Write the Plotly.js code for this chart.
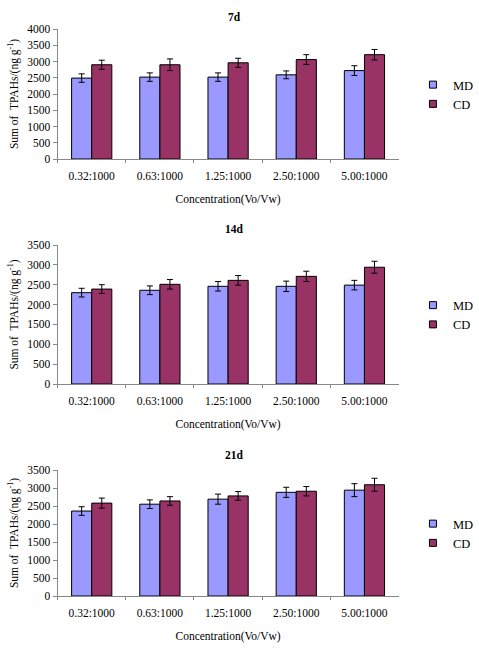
<!DOCTYPE html>
<html><head><meta charset="utf-8">
<script src="https://cdn.plot.ly/plotly-3.0.1.min.js"></script>
<style>html,body{margin:0;padding:0;background:#fff}</style>
</head><body><div id="chart" style="width:479px;height:652px"></div>
<script>
const categories = ["0.32:1000","0.63:1000","1.25:1000","2.50:1000","5.00:1000"];
const panelTitles = ["7d","14d","21d"];
const md7 = [2490, 2520, 2520, 2590, 2720];
const md7Err = [130, 130, 130, 120, 150];
const cd7 = [2900, 2900, 2960, 3060, 3210];
const cd7Err = [140, 180, 140, 150, 160];
const md14 = [2300, 2360, 2460, 2460, 2490];
const md14Err = [110, 110, 120, 130, 120];
const cd14 = [2390, 2510, 2610, 2710, 2940];
const cd14Err = [110, 120, 120, 130, 150];
const md21 = [2360, 2550, 2690, 2880, 2940];
const md21Err = [120, 120, 140, 140, 180];
const cd21 = [2580, 2640, 2780, 2910, 3090];
const cd21Err = [140, 120, 120, 130, 180];
const yMax = [4000, 3500, 3500];

const mdColor = "#9999FF", cdColor = "#993366";
const serif = '"Liberation Serif", "Times New Roman", serif';
const mdSets = [[md7, md7Err],[md14, md14Err],[md21, md21Err]];
const cdSets = [[cd7, cd7Err],[cd14, cd14Err],[cd21, cd21Err]];

const traces = [];
for (let i = 0; i < 3; i++) {
  const sfx = i === 0 ? "" : String(i + 1);
  const leg = i === 0 ? "legend" : "legend" + (i + 1);
  [["MD", mdColor, mdSets[i]], ["CD", cdColor, cdSets[i]]].forEach(([name, col, set]) => {
    traces.push({
      type: "bar", name: name, x: categories, y: set[0],
      xaxis: "x" + sfx, yaxis: "y" + sfx, showlegend: false,
      marker: {color: col, line: {color: "#000", width: 1}},
      error_y: {type: "data", array: set[1], visible: true, color: "#000", thickness: 1, width: 3}
    });
  });
  // legend-only entries with small square swatches
  [["MD", mdColor], ["CD", cdColor]].forEach(([name, col]) => {
    traces.push({
      type: "scatter", mode: "markers", name: name, x: [null], y: [null],
      xaxis: "x" + sfx, yaxis: "y" + sfx, legend: leg, showlegend: true,
      marker: {symbol: "square", size: 7, color: col, line: {color: "#000", width: 1}}
    });
  });
}

const plotTop = [29, 245, 470], plotBot = [159, 384, 596];
const titleY = [17, 229, 455];
const H = 652, W = 479;
const layout = {
  width: W, height: H, margin: {l: 0, r: 0, t: 0, b: 0},
  paper_bgcolor: "#fff", plot_bgcolor: "#fff",
  barmode: "group", bargap: 0.41, bargroupgap: 0,
  font: {family: serif, size: 11, color: "#000"},
  annotations: []
};
for (let i = 0; i < 3; i++) {
  const sfx = i === 0 ? "" : String(i + 1);
  const dom = [1 - plotBot[i] / H, 1 - plotTop[i] / H];
  layout["xaxis" + sfx] = {
    domain: [60 / W, 415 / W], anchor: "y" + sfx, type: "category",
    showline: true, linecolor: "#888", linewidth: 1,
    ticks: "outside", tickson: "boundaries", ticklen: 3, tickcolor: "#888",
    ticklabelstandoff: 6,
    showgrid: false, tickfont: {family: serif, size: 11.5},
    title: {text: "Concentration(Vo/Vw)", font: {family: serif, size: 11.5}, standoff: 14}
  };
  layout["yaxis" + sfx] = {
    domain: dom, anchor: "x" + sfx, range: [0, yMax[i]], dtick: 500,
    showline: true, linecolor: "#888", linewidth: 1,
    ticks: "outside", ticklen: 4, tickcolor: "#888",
    showgrid: false, zeroline: false, tickfont: {family: serif, size: 11.5},
    title: {text: "Sum of  TPAHs/(ng g<sup>-1</sup>)", font: {family: serif, size: 11.5}, standoff: 6}
  };
  const leg = i === 0 ? "legend" : "legend" + (i + 1);
  const mid = (plotTop[i] + plotBot[i]) / 2;
  layout[leg] = {
    x: 430 / W, xanchor: "left", y: 1 - (mid - 24) / H, yanchor: "top",
    font: {family: serif, size: 12.5}, bgcolor: "rgba(0,0,0,0)",
    traceorder: "normal", itemwidth: 30, tracegroupgap: 0
  };
  layout.annotations.push({
    text: "<b>" + panelTitles[i] + "</b>", xref: "paper", yref: "paper",
    x: 244 / W, y: 1 - titleY[i] / H, showarrow: false,
    font: {family: serif, size: 11.5}, xanchor: "center", yanchor: "middle"
  });
}
Plotly.newPlot("chart", traces, layout, {staticPlot: true, displayModeBar: false});
</script></body></html>
